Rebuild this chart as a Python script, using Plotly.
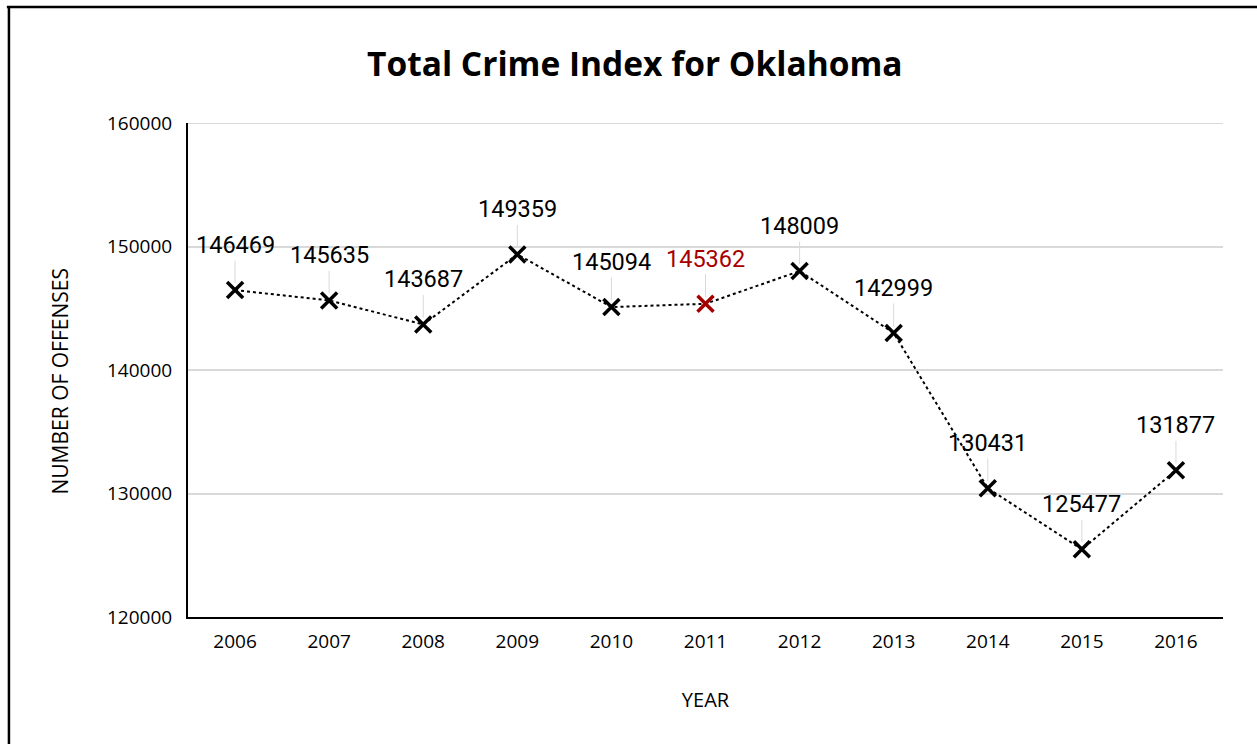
import plotly.graph_objects as go

years = ["2006", "2007", "2008", "2009", "2010", "2011", "2012", "2013", "2014", "2015", "2016"]
offenses = [146469, 145635, 143687, 149359, 145094, 145362, 148009, 142999, 130431, 125477, 131877]
highlight_year = "2011"
y_ticks = [120000, 130000, 140000, 150000, 160000]

BLACK = "#000000"
RED = "#a50000"
GRID = "#d9d9d9"

marker_colors = [RED if y == highlight_year else BLACK for y in years]

fig = go.Figure()
fig.add_trace(go.Scatter(
    x=years,
    y=offenses,
    mode="lines+markers",
    line=dict(color=BLACK, width=2, dash="dot"),
    marker=dict(symbol="x-thin", size=16, color=marker_colors,
                line=dict(color=marker_colors, width=3.5)),
    showlegend=False,
    hoverinfo="x+y",
))

# value labels above each point, joined by a thin leader line
# (category axes take the serial index of each category for annotations)
for i, (val, col) in enumerate(zip(offenses, marker_colors)):
    fig.add_annotation(
        x=i, y=val, text=str(val),
        showarrow=True, arrowhead=0, arrowwidth=1, arrowcolor=GRID,
        ax=0, ay=-45, standoff=7,
        font=dict(family="Roboto", size=23.5, color=col),
    )

# vertical axis title, placed slightly below the plot's midline
fig.add_annotation(
    xref="paper", yref="paper", x=-0.124, y=0.476,
    text="NUMBER OF OFFENSES", textangle=-90, showarrow=False,
    xanchor="center", yanchor="middle",
    font=dict(family="Open Sans", size=21, color=BLACK),
)

# top gridline sits on the range edge, so draw it explicitly
fig.add_shape(type="line", xref="paper", yref="y",
              x0=0, x1=1, y0=y_ticks[-1], y1=y_ticks[-1],
              line=dict(color=GRID, width=2), layer="below")

# frame lines around the figure
fig.add_shape(type="line", xref="paper", yref="paper",
              x0=-0.173, x1=-0.173, y0=1.235, y1=-0.4,
              line=dict(color=BLACK, width=2.5))
fig.add_shape(type="line", xref="paper", yref="paper",
              x0=-0.175, x1=1.1, y0=1.235, y1=1.235,
              line=dict(color=BLACK, width=2.5))

fig.update_layout(
    width=1257, height=744,
    margin=dict(l=188, r=34, t=123, b=127),
    paper_bgcolor="white", plot_bgcolor="white",
    title=dict(text="<b>Total Crime Index for Oklahoma</b>",
               x=0.505, xref="container", xanchor="center",
               y=0.914, yref="container", yanchor="middle",
               font=dict(family="Open Sans", size=33.5, color=BLACK)),
    font=dict(family="Open Sans", color=BLACK),
)

fig.update_xaxes(
    type="category", range=[-0.5, 10.5],
    showline=True, linecolor=BLACK, linewidth=2,
    showgrid=False, ticks="", ticklabelstandoff=6,
    tickfont=dict(family="Open Sans", size=19, color=BLACK),
    title=dict(text="YEAR", standoff=40,
               font=dict(family="Open Sans", size=20, color=BLACK)),
)
fig.update_yaxes(
    range=[120000, 160000], tickvals=y_ticks, tickformat="d",
    showline=True, linecolor=BLACK, linewidth=2,
    showgrid=True, gridcolor=GRID, gridwidth=2,
    zeroline=False, ticks="", ticklabelstandoff=10,
    tickfont=dict(family="Open Sans", size=19, color=BLACK),
)

fig.write_html("out.html")
